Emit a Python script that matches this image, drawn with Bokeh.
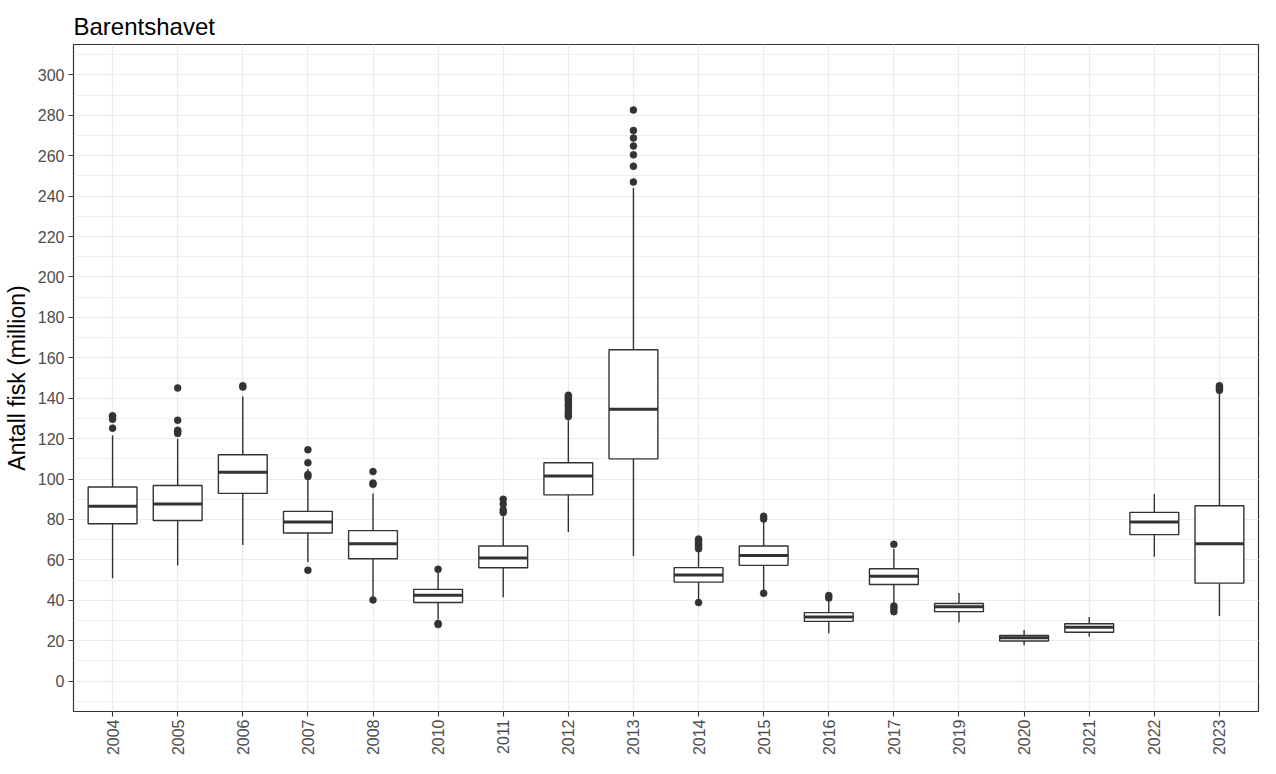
import math
from bokeh.plotting import figure
from bokeh.models import FactorRange, Range1d, FixedTicker, ColumnDataSource
from bokeh.embed import file_html
from bokeh.resources import INLINE

years = ["2004", "2005", "2006", "2007", "2008", "2010", "2011", "2012", "2013",
         "2014", "2015", "2016", "2017", "2019", "2020", "2021", "2022", "2023"]
q1 = [77.9, 79.5, 92.9, 73.3, 60.6, 38.9, 56.1, 92.2, 110.0,
      49.0, 57.3, 29.6, 47.8, 34.4, 19.9, 24.2, 72.5, 48.5]
median = [86.6, 87.7, 103.4, 78.7, 68.0, 42.5, 60.9, 101.5, 134.6,
          52.5, 62.2, 31.8, 51.9, 36.8, 21.5, 26.7, 78.7, 68.0]
q3 = [96.1, 96.8, 112.0, 84.0, 74.5, 45.4, 66.9, 108.1, 164.0,
      56.2, 66.9, 33.9, 55.6, 38.4, 22.6, 28.4, 83.5, 86.8]
whisker_low = [50.9, 57.2, 67.4, 59.0, 41.0, 30.5, 41.5, 73.8, 61.9,
               40.0, 44.5, 23.7, 38.8, 29.1, 17.8, 22.1, 61.6, 32.3]
whisker_high = [121.6, 120.0, 140.9, 105.0, 92.9, 54.5, 81.6, 130.0, 244.0,
                64.5, 79.2, 39.6, 65.4, 43.6, 25.3, 31.8, 92.6, 143.0]

outlier_year = (["2004"] * 4 + ["2005"] * 5 + ["2006"] * 2 + ["2007"] * 5 +
                ["2008"] * 4 + ["2010"] * 3 + ["2011"] * 4 + ["2012"] * 10 +
                ["2013"] * 7 + ["2014"] * 7 + ["2015"] * 3 + ["2016"] * 2 +
                ["2017"] * 4 + ["2023"] * 4)
outlier_value = [125.2, 129.6, 130.9, 131.3,
                 122.6, 123.6, 124.1, 129.1, 145.1,
                 145.5, 146.2,
                 54.9, 101.3, 102.3, 108.1, 114.5,
                 40.2, 97.4, 98.0, 103.7,
                 28.0, 28.6, 55.4,
                 83.5, 84.8, 87.7, 90.0,
                 131.0, 132.0, 133.0, 134.5, 136.0, 137.0, 138.5, 139.5, 140.5, 141.5,
                 247.0, 254.8, 260.4, 264.8, 268.7, 272.5, 282.6,
                 38.9, 65.5, 66.5, 67.5, 68.5, 69.5, 70.3,
                 43.5, 80.3, 81.6,
                 41.2, 42.4,
                 34.4, 36.0, 37.2, 67.7,
                 143.9, 144.9, 145.6, 146.2]

y_ticks = list(range(0, 301, 20))
y_minor = list(range(-10, 311, 10))

DARK = "#333333"
FONT = "Liberation Sans"

box_src = ColumnDataSource(dict(year=years, q1=q1, median=median, q3=q3,
                                lo=whisker_low, hi=whisker_high))
out_src = ColumnDataSource(dict(year=outlier_year, value=outlier_value))

p = figure(x_range=FactorRange(factors=years, range_padding=0.1,
                               range_padding_units="absolute"),
           y_range=Range1d(-15, 315),
           width=1260, height=758,
           output_backend="svg", toolbar_location=None,
           title="Barentshavet",
           min_border_left=73, min_border_right=2,
           min_border_top=44, min_border_bottom=43)

p.background_fill_color = "white"
p.border_fill_color = "white"
p.outline_line_color = DARK
p.outline_line_width = 1.2

# grids
p.xgrid.grid_line_color = "#EBEBEB"
p.xgrid.grid_line_width = 1.2
p.ygrid.grid_line_color = "#EBEBEB"
p.ygrid.grid_line_width = 1.2
p.ygrid.minor_grid_line_color = "#EBEBEB"
p.ygrid.minor_grid_line_width = 0.9

p.yaxis.ticker = FixedTicker(ticks=y_ticks, minor_ticks=y_minor)

for ax in (p.xaxis, p.yaxis):
    ax.axis_line_color = None
    ax.major_tick_line_color = DARK
    ax.major_tick_line_width = 1.1
    ax.major_tick_out = 5
    ax.major_tick_in = 0
    ax.minor_tick_line_color = None
    ax.major_label_text_font = FONT
    ax.major_label_text_font_size = "16px"
    ax.major_label_text_color = "#4D4D4D"

p.xaxis.major_label_orientation = math.pi / 2
p.xaxis.major_label_standoff = 3
p.yaxis.major_label_standoff = 4
p.yaxis.axis_label = "Antall fisk (million)"
p.yaxis.axis_label_text_font = FONT
p.yaxis.axis_label_text_font_size = "23px"
p.yaxis.axis_label_text_font_style = "normal"
p.yaxis.axis_label_text_color = "black"
p.yaxis.axis_label_standoff = 5

p.title.text_font = FONT
p.title.text_font_size = "24px"
p.title.text_font_style = "normal"
p.title.text_color = "black"
p.title.align = "left"
p.title.standoff = 10

# whiskers
p.segment(x0="year", y0="q3", x1="year", y1="hi", source=box_src,
          line_color=DARK, line_width=1.4)
p.segment(x0="year", y0="q1", x1="year", y1="lo", source=box_src,
          line_color=DARK, line_width=1.4)
# boxes
p.vbar(x="year", width=0.75, top="q3", bottom="q1", source=box_src,
       fill_color="white", line_color=DARK, line_width=1.4)
# medians
p.rect(x="year", y="median", width=0.75, height=3, height_units="screen",
       source=box_src, fill_color=DARK, line_color=None)
# outliers
p.scatter(x="year", y="value", source=out_src, size=7,
          fill_color=DARK, line_color=DARK, line_width=0.5)

open("out.html", "w").write(file_html(p, INLINE))
